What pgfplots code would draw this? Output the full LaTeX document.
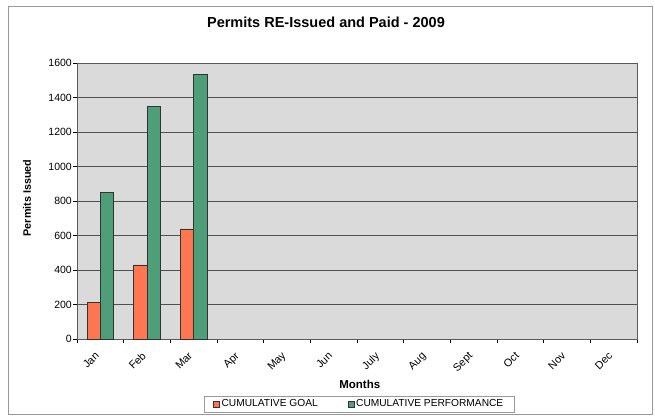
\documentclass[border=0pt]{standalone}
\usepackage{fontspec}
\setmainfont{Liberation Sans}
\usepackage{pgfplots}
\pgfplotsset{compat=1.18}
\definecolor{goalc}{RGB}{255,118,82}
\definecolor{perfc}{RGB}{78,158,122}
\definecolor{plotbg}{RGB}{218,218,218}
\definecolor{gridc}{RGB}{80,80,80}
\begin{document}
\begin{tikzpicture}[x=1pt,y=1pt]
\path[use as bounding box] (0,0) rectangle (655,418);
\fill[white] (0,0) rectangle (655,418);
\draw[gray!80, line width=0.8pt] (8,4) rectangle (652,412);
\begin{axis}[
  at={(77pt,79pt)}, anchor=south west,
  scale only axis, width=560pt, height=276pt,
  xmin=-0.5, xmax=11.5, ymin=0, ymax=1600,
  ybar=0pt, bar width=13.3pt,
  xtick={0,...,11},
  xticklabels={Jan,Feb,Mar,Apr,May,Jun,July,Aug,Sept,Oct,Nov,Dec},
  major x tick style={draw=none},
  minor xtick={-0.5,0.5,...,11.5},
  minor tick length=4pt,
  ytick={0,200,...,1600},
  tick align=outside,
  major tick length=4pt,
  xtick pos=bottom, ytick pos=left,
  ymajorgrids,
  grid style={gridc, line width=0.9pt},
  axis background/.style={fill=plotbg},
  axis line style={gray!70!black, line width=0.8pt},
  tick style={black, line width=0.6pt},
  /pgf/number format/assume math mode=true,
  /pgf/number format/1000 sep={},
  yticklabel style={font=\fontsize{10.5}{12}\selectfont, inner sep=1pt},
  xticklabel style={font=\fontsize{10.8}{12}\selectfont, xshift=-6pt, yshift=-8pt, rotate=45, anchor=north east, inner sep=0pt},
  title={\textbf{Permits RE-Issued and Paid - 2009}},
  title style={font=\fontsize{14.5}{16}\selectfont, at={(axis description cs:0.4446,1.125)}, anchor=center},
  xlabel={\textbf{Months}},
  xlabel style={font=\fontsize{11.5}{13}\selectfont, at={(axis description cs:0.505,-0.163)}, anchor=center},
  ylabel={\textbf{Permits Issued}},
  ylabel style={font=\fontsize{10.8}{12}\selectfont, at={(axis description cs:-0.0893,0.511)}, anchor=center},
  legend columns=2,
  legend style={at={(axis description cs:0.504,-0.2355)}, anchor=center,
    draw=gray!80, line width=0.6pt, font=\fontsize{10.2}{12}\selectfont,
    inner xsep=9pt, inner ysep=1.5pt,
    /tikz/every even column/.append style={column sep=28pt}},
  legend image code/.code={\draw[#1, line width=0.4pt] (0pt,-3pt) rectangle (6pt,3pt);},
]
\addplot[fill=goalc, draw=black!80, line width=0.5pt] coordinates {(0,212) (1,430) (2,638)};
\addlegendentry{CUMULATIVE GOAL}
\addplot[fill=perfc, draw=black!80, line width=0.5pt] coordinates {(0,852) (1,1350) (2,1535)};
\addlegendentry{CUMULATIVE PERFORMANCE}
\end{axis}
\end{tikzpicture}
\end{document}
